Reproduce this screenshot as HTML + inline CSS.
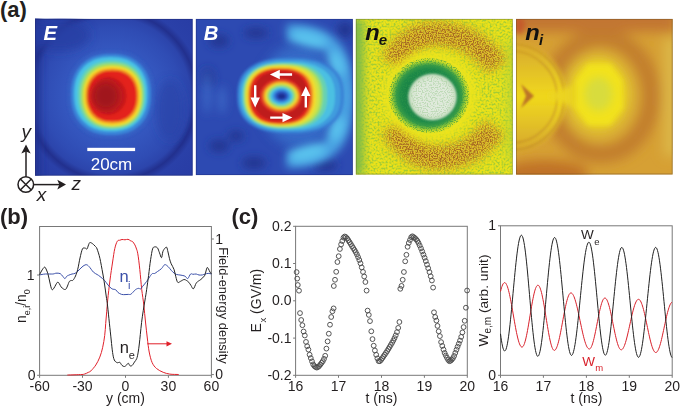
<!DOCTYPE html>
<html><head><meta charset="utf-8">
<style>
html,body{margin:0;padding:0;background:#fff;overflow:hidden;}
svg{display:block;}
text{font-family:"Liberation Sans",sans-serif;}
</style></head>
<body>
<svg width="685" height="406" viewBox="0 0 685 406" xmlns="http://www.w3.org/2000/svg">
<defs>
  <clipPath id="cE"><rect x="35.1" y="18.9" width="157.5" height="156.7"/></clipPath>
  <clipPath id="cB"><rect x="195.9" y="18.9" width="156.9" height="156.2"/></clipPath>
  <clipPath id="cN"><rect x="355.9" y="18.9" width="156.8" height="155.6"/></clipPath>
  <clipPath id="cI"><rect x="516.1" y="18.9" width="156.5" height="155.5"/></clipPath>
  <filter id="bl1" filterUnits="userSpaceOnUse" x="-10" y="-10" width="705" height="426"><feGaussianBlur stdDeviation="1.2"/></filter>
  <filter id="bl2" filterUnits="userSpaceOnUse" x="-10" y="-10" width="705" height="426"><feGaussianBlur stdDeviation="2.5"/></filter>
  <filter id="bl4" filterUnits="userSpaceOnUse" x="-10" y="-10" width="705" height="426"><feGaussianBlur stdDeviation="4"/></filter>
  <filter id="bl6" filterUnits="userSpaceOnUse" x="-10" y="-10" width="705" height="426"><feGaussianBlur stdDeviation="6"/></filter>
  <filter id="speckIn" x="356" y="18" width="158" height="158" filterUnits="userSpaceOnUse">
    <feTurbulence type="fractalNoise" baseFrequency="0.75" numOctaves="1" seed="3" result="n"/>
    <feColorMatrix in="n" type="matrix" values="0 0 0 0 0  0 0 0 0 0  0 0 0 0 0  5 0 0 0 -2.1" result="m"/>
    <feComposite in="SourceGraphic" in2="m" operator="in"/>
  </filter>
  <filter id="speckG" x="356" y="18" width="158" height="158" filterUnits="userSpaceOnUse">
    <feTurbulence type="fractalNoise" baseFrequency="0.5" numOctaves="2" seed="11" result="n"/>
    <feColorMatrix in="n" type="matrix" values="0 0 0 0 0  0 0 0 0 0  0 0 0 0 0  3.5 0 0 0 -1.5" result="m"/>
    <feGaussianBlur in="m" stdDeviation="0.4" result="mb"/>
    <feComposite in="SourceGraphic" in2="mb" operator="in"/>
  </filter>
  <linearGradient id="gNiDisk" x1="0" y1="0" x2="0" y2="1">
    <stop offset="0" stop-color="#d8a62c"/>
    <stop offset="0.25" stop-color="#e2c028"/>
    <stop offset="0.5" stop-color="#f0d81c"/>
    <stop offset="0.75" stop-color="#e2c028"/>
    <stop offset="1" stop-color="#d6a42c"/>
  </linearGradient>
  <radialGradient id="gNeRing" cx="0.5" cy="0.5" r="0.5">
    <stop offset="0.55" stop-color="#1a8446"/>
    <stop offset="0.68" stop-color="#1e8a48"/>
    <stop offset="0.78" stop-color="#3a9c46"/>
    <stop offset="0.86" stop-color="#80c03a" stop-opacity="0.9"/>
    <stop offset="0.93" stop-color="#c4dc2a" stop-opacity="0.6"/>
    <stop offset="1" stop-color="#e8e21e" stop-opacity="0"/>
  </radialGradient>
  <filter id="speckF" x="356" y="18" width="158" height="158" filterUnits="userSpaceOnUse">
    <feTurbulence type="fractalNoise" baseFrequency="0.8" numOctaves="1" seed="5" result="n"/>
    <feColorMatrix in="n" type="matrix" values="0 0 0 0 0  0 0 0 0 0  0 0 0 0 0  6 0 0 0 -2.8" result="m"/>
    <feComposite in="SourceGraphic" in2="m" operator="in"/>
  </filter>
  <radialGradient id="gEbg" gradientUnits="userSpaceOnUse" cx="112" cy="96" r="115">
    <stop offset="0" stop-color="#3a62c8"/>
    <stop offset="0.42" stop-color="#3456be"/>
    <stop offset="0.6" stop-color="#2f4cb4"/>
    <stop offset="0.68" stop-color="#2c45ac"/>
    <stop offset="0.735" stop-color="#22308e"/>
    <stop offset="0.79" stop-color="#2a40a8"/>
    <stop offset="1" stop-color="#283ca4"/>
  </radialGradient>
</defs>

<!-- ============ (a) panel labels ============ -->
<text x="0" y="16.6" font-size="22" font-weight="bold" fill="#231f20">(a)</text>

<!-- E panel -->
<g clip-path="url(#cE)">
  <rect x="30" y="14" width="170" height="170" fill="url(#gEbg)"/>
  <g filter="url(#bl4)">
    <rect x="30" y="15" width="9" height="165" fill="#22308e"/>
    <ellipse cx="60" cy="35" rx="30" ry="16" fill="#283fa4" opacity="0.8"/>
    <ellipse cx="170" cy="110" rx="14" ry="30" fill="#2a44a8" opacity="0.7"/>
  </g>
  <g filter="url(#bl1)">
    <path d="M155.0,94.5 L154.9,99.8 L154.4,104.2 L153.7,108.2 L152.7,112.0 L151.4,115.5 L149.8,118.9 L148.0,121.9 L145.9,124.8 L143.6,127.4 L141.0,129.8 L138.1,131.9 L135.1,133.8 L131.8,135.4 L128.3,136.7 L124.6,137.7 L120.6,138.4 L116.3,138.9 L111.0,139.0 L105.7,138.9 L101.4,138.4 L97.4,137.7 L93.7,136.7 L90.2,135.4 L86.9,133.8 L83.9,131.9 L81.0,129.8 L78.4,127.4 L76.1,124.8 L74.0,121.9 L72.2,118.9 L70.6,115.5 L69.3,112.0 L68.3,108.2 L67.6,104.2 L67.1,99.8 L67.0,94.5 L67.1,89.2 L67.6,84.8 L68.3,80.8 L69.3,77.0 L70.6,73.5 L72.2,70.1 L74.0,67.1 L76.1,64.2 L78.4,61.6 L81.0,59.2 L83.9,57.1 L86.9,55.2 L90.2,53.6 L93.7,52.3 L97.4,51.3 L101.4,50.6 L105.7,50.1 L111.0,50.0 L116.3,50.1 L120.6,50.6 L124.6,51.3 L128.3,52.3 L131.8,53.6 L135.1,55.2 L138.1,57.1 L141.0,59.2 L143.6,61.6 L145.9,64.2 L148.0,67.1 L149.8,70.1 L151.4,73.5 L152.7,77.0 L153.7,80.8 L154.4,84.8 L154.9,89.2Z" fill="#3468c8" opacity="0.4"/>
    <path d="M151.0,94.5 L150.9,99.4 L150.5,103.3 L149.8,107.0 L148.9,110.4 L147.7,113.7 L146.3,116.7 L144.6,119.5 L142.7,122.1 L140.6,124.5 L138.2,126.6 L135.7,128.6 L132.9,130.2 L129.9,131.7 L126.7,132.9 L123.3,133.8 L119.7,134.5 L115.8,134.9 L111.0,135.0 L106.2,134.9 L102.3,134.5 L98.7,133.8 L95.3,132.9 L92.1,131.7 L89.1,130.2 L86.3,128.6 L83.8,126.6 L81.4,124.5 L79.3,122.1 L77.4,119.5 L75.7,116.7 L74.3,113.7 L73.1,110.4 L72.2,107.0 L71.5,103.3 L71.1,99.4 L71.0,94.5 L71.1,89.6 L71.5,85.7 L72.2,82.0 L73.1,78.6 L74.3,75.3 L75.7,72.3 L77.4,69.5 L79.3,66.9 L81.4,64.5 L83.8,62.4 L86.3,60.4 L89.1,58.8 L92.1,57.3 L95.3,56.1 L98.7,55.2 L102.3,54.5 L106.2,54.1 L111.0,54.0 L115.8,54.1 L119.7,54.5 L123.3,55.2 L126.7,56.1 L129.9,57.3 L132.9,58.8 L135.7,60.4 L138.2,62.4 L140.6,64.5 L142.7,66.9 L144.6,69.5 L146.3,72.3 L147.7,75.3 L148.9,78.6 L149.8,82.0 L150.5,85.7 L150.9,89.6Z" fill="#3a86d8"/>
    <path d="M147.4,94.2 L147.3,98.6 L146.9,102.3 L146.3,105.7 L145.5,108.8 L144.4,111.7 L143.1,114.5 L141.6,117.1 L139.8,119.5 L137.9,121.6 L135.7,123.6 L133.4,125.4 L130.8,126.9 L128.1,128.3 L125.2,129.3 L122.1,130.2 L118.8,130.8 L115.2,131.2 L110.8,131.3 L106.4,131.2 L102.8,130.8 L99.5,130.2 L96.4,129.3 L93.5,128.3 L90.8,126.9 L88.2,125.4 L85.9,123.6 L83.7,121.6 L81.8,119.5 L80.0,117.1 L78.5,114.5 L77.2,111.7 L76.1,108.8 L75.3,105.7 L74.7,102.3 L74.3,98.6 L74.2,94.2 L74.3,89.8 L74.7,86.1 L75.3,82.7 L76.1,79.6 L77.2,76.7 L78.5,73.9 L80.0,71.3 L81.8,68.9 L83.7,66.8 L85.9,64.8 L88.2,63.0 L90.8,61.5 L93.5,60.1 L96.4,59.1 L99.5,58.2 L102.8,57.6 L106.4,57.2 L110.8,57.1 L115.2,57.2 L118.8,57.6 L122.1,58.2 L125.2,59.1 L128.1,60.1 L130.8,61.5 L133.4,63.0 L135.7,64.8 L137.9,66.8 L139.8,68.9 L141.6,71.3 L143.1,73.9 L144.4,76.7 L145.5,79.6 L146.3,82.7 L146.9,86.1 L147.3,89.8Z" fill="#48c2e6"/>
    <path d="M145.1,95.0 L145.0,99.1 L144.7,102.5 L144.1,105.6 L143.3,108.5 L142.3,111.2 L141.1,113.8 L139.7,116.2 L138.1,118.4 L136.4,120.4 L134.4,122.2 L132.2,123.8 L129.9,125.3 L127.4,126.5 L124.7,127.5 L121.9,128.3 L118.8,128.8 L115.5,129.2 L111.5,129.3 L107.5,129.2 L104.2,128.8 L101.1,128.3 L98.3,127.5 L95.6,126.5 L93.1,125.3 L90.8,123.8 L88.6,122.2 L86.6,120.4 L84.9,118.4 L83.3,116.2 L81.9,113.8 L80.7,111.2 L79.7,108.5 L78.9,105.6 L78.3,102.5 L78.0,99.1 L77.9,95.0 L78.0,90.9 L78.3,87.5 L78.9,84.4 L79.7,81.5 L80.7,78.8 L81.9,76.2 L83.3,73.8 L84.9,71.6 L86.6,69.6 L88.6,67.8 L90.8,66.2 L93.1,64.7 L95.6,63.5 L98.3,62.5 L101.1,61.7 L104.2,61.2 L107.5,60.8 L111.5,60.7 L115.5,60.8 L118.8,61.2 L121.9,61.7 L124.7,62.5 L127.4,63.5 L129.9,64.7 L132.2,66.2 L134.4,67.8 L136.4,69.6 L138.1,71.6 L139.7,73.8 L141.1,76.2 L142.3,78.8 L143.3,81.5 L144.1,84.4 L144.7,87.5 L145.0,90.9Z" fill="#66d4b2"/>
    <path d="M143.2,95.5 L143.1,99.4 L142.8,102.5 L142.3,105.4 L141.6,108.2 L140.6,110.7 L139.5,113.1 L138.2,115.4 L136.7,117.4 L135.1,119.3 L133.2,121.0 L131.2,122.6 L129.1,123.9 L126.8,125.1 L124.3,126.0 L121.6,126.7 L118.8,127.3 L115.7,127.6 L112.0,127.7 L108.3,127.6 L105.2,127.3 L102.4,126.7 L99.7,126.0 L97.2,125.1 L94.9,123.9 L92.8,122.6 L90.8,121.0 L88.9,119.3 L87.3,117.4 L85.8,115.4 L84.5,113.1 L83.4,110.7 L82.4,108.2 L81.7,105.4 L81.2,102.5 L80.9,99.4 L80.8,95.5 L80.9,91.6 L81.2,88.5 L81.7,85.6 L82.4,82.8 L83.4,80.3 L84.5,77.9 L85.8,75.6 L87.3,73.6 L88.9,71.7 L90.8,70.0 L92.8,68.4 L94.9,67.1 L97.2,65.9 L99.7,65.0 L102.4,64.3 L105.2,63.7 L108.3,63.4 L112.0,63.3 L115.7,63.4 L118.8,63.7 L121.6,64.3 L124.3,65.0 L126.8,65.9 L129.1,67.1 L131.2,68.4 L133.2,70.0 L135.1,71.7 L136.7,73.6 L138.2,75.6 L139.5,77.9 L140.6,80.3 L141.6,82.8 L142.3,85.6 L142.8,88.5 L143.1,91.6Z" fill="#a8de5a"/>
    <path d="M141.2,96.0 L141.1,99.6 L140.8,102.5 L140.3,105.2 L139.7,107.8 L138.8,110.1 L137.8,112.4 L136.6,114.4 L135.2,116.4 L133.7,118.1 L132.0,119.7 L130.1,121.1 L128.1,122.4 L126.0,123.4 L123.7,124.3 L121.2,125.0 L118.6,125.5 L115.8,125.8 L112.3,125.9 L108.8,125.8 L106.0,125.5 L103.4,125.0 L100.9,124.3 L98.6,123.4 L96.5,122.4 L94.5,121.1 L92.6,119.7 L90.9,118.1 L89.4,116.4 L88.0,114.4 L86.8,112.4 L85.8,110.1 L84.9,107.8 L84.3,105.2 L83.8,102.5 L83.5,99.6 L83.4,96.0 L83.5,92.4 L83.8,89.5 L84.3,86.8 L84.9,84.2 L85.8,81.9 L86.8,79.6 L88.0,77.6 L89.4,75.6 L90.9,73.9 L92.6,72.3 L94.5,70.9 L96.5,69.6 L98.6,68.6 L100.9,67.7 L103.4,67.0 L106.0,66.5 L108.8,66.2 L112.3,66.1 L115.8,66.2 L118.6,66.5 L121.2,67.0 L123.7,67.7 L126.0,68.6 L128.1,69.6 L130.1,70.9 L132.0,72.3 L133.7,73.9 L135.2,75.6 L136.6,77.6 L137.8,79.6 L138.8,81.9 L139.7,84.2 L140.3,86.8 L140.8,89.5 L141.1,92.4Z" fill="#f6da2a"/>
    <path d="M138.7,96.0 L138.6,99.3 L138.4,102.0 L137.9,104.5 L137.3,106.8 L136.5,109.0 L135.6,111.0 L134.5,112.9 L133.2,114.7 L131.8,116.3 L130.3,117.7 L128.6,119.0 L126.7,120.2 L124.8,121.2 L122.7,122.0 L120.5,122.6 L118.1,123.0 L115.5,123.3 L112.3,123.4 L109.1,123.3 L106.5,123.0 L104.1,122.6 L101.9,122.0 L99.8,121.2 L97.9,120.2 L96.0,119.0 L94.3,117.7 L92.8,116.3 L91.4,114.7 L90.1,112.9 L89.0,111.0 L88.1,109.0 L87.3,106.8 L86.7,104.5 L86.2,102.0 L86.0,99.3 L85.9,96.0 L86.0,92.7 L86.2,90.0 L86.7,87.5 L87.3,85.2 L88.1,83.0 L89.0,81.0 L90.1,79.1 L91.4,77.3 L92.8,75.7 L94.3,74.3 L96.0,73.0 L97.9,71.8 L99.8,70.8 L101.9,70.0 L104.1,69.4 L106.5,69.0 L109.1,68.7 L112.3,68.6 L115.5,68.7 L118.1,69.0 L120.5,69.4 L122.7,70.0 L124.8,70.8 L126.7,71.8 L128.6,73.0 L130.3,74.3 L131.8,75.7 L133.2,77.3 L134.5,79.1 L135.6,81.0 L136.5,83.0 L137.3,85.2 L137.9,87.5 L138.4,90.0 L138.6,92.7Z" fill="#f08a24"/>
    <path d="M136.5,96.0 L136.4,99.0 L136.2,101.5 L135.8,103.8 L135.2,105.9 L134.5,107.9 L133.7,109.8 L132.6,111.5 L131.5,113.2 L130.2,114.6 L128.8,116.0 L127.2,117.2 L125.5,118.2 L123.7,119.1 L121.8,119.9 L119.8,120.5 L117.6,120.9 L115.2,121.1 L112.3,121.2 L109.4,121.1 L107.0,120.9 L104.8,120.5 L102.8,119.9 L100.9,119.1 L99.1,118.2 L97.4,117.2 L95.8,116.0 L94.4,114.6 L93.1,113.2 L92.0,111.5 L90.9,109.8 L90.1,107.9 L89.4,105.9 L88.8,103.8 L88.4,101.5 L88.2,99.0 L88.1,96.0 L88.2,93.0 L88.4,90.5 L88.8,88.2 L89.4,86.1 L90.1,84.1 L90.9,82.2 L92.0,80.5 L93.1,78.8 L94.4,77.4 L95.8,76.0 L97.4,74.8 L99.1,73.8 L100.9,72.9 L102.8,72.1 L104.8,71.5 L107.0,71.1 L109.4,70.9 L112.3,70.8 L115.2,70.9 L117.6,71.1 L119.8,71.5 L121.8,72.1 L123.7,72.9 L125.5,73.8 L127.2,74.8 L128.8,76.0 L130.2,77.4 L131.5,78.8 L132.6,80.5 L133.7,82.2 L134.5,84.1 L135.2,86.1 L135.8,88.2 L136.2,90.5 L136.4,93.0Z" fill="#e4221e"/>
    <ellipse cx="109" cy="96" rx="17.5" ry="18.5" fill="#cc1c1e"/>
  </g>

  <ellipse cx="106" cy="96" rx="14" ry="15" fill="#a0121c" filter="url(#bl4)"/>
  <rect x="87.3" y="147.8" width="47.8" height="3.3" fill="#fff"/>
  <text x="111.5" y="169.6" font-size="17" fill="#fff" text-anchor="middle">20cm</text>
  <text transform="translate(43.6,39.9) scale(1.05,1)" font-size="19.3" font-weight="bold" font-style="italic" fill="#fff">E</text>
</g>

<!-- B panel -->
<g clip-path="url(#cB)">
  <rect x="190" y="14" width="170" height="170" fill="#2d4ab2"/>
  <g filter="url(#bl4)" fill="#223490">
    <ellipse cx="219" cy="41" rx="10" ry="6"/>
    <ellipse cx="256" cy="33" rx="12" ry="5"/>
    <ellipse cx="208" cy="78" rx="6" ry="10"/>
    <ellipse cx="219" cy="146" rx="10" ry="6"/>
    <ellipse cx="254" cy="163" rx="12" ry="6"/>
    <ellipse cx="236" cy="136" rx="8" ry="5"/>
    <ellipse cx="325" cy="165" rx="12" ry="6"/>
    <ellipse cx="345" cy="30" rx="8" ry="8"/>
  </g>
  <g filter="url(#bl4)" fill="#3a66c6">
    <ellipse cx="207" cy="92" rx="4" ry="22"/>
    <ellipse cx="222" cy="100" rx="4" ry="14"/>
  </g>
  <ellipse cx="300" cy="96" rx="42" ry="52" fill="#3872cc" filter="url(#bl6)" opacity="0.8"/>
  <g filter="url(#bl4)">
    <path d="M287,33 C304,32 321,36 331,46 C341,56 345,74 346,96 C345,118 341,136 331,146 C321,156 304,160 287,159" fill="none" stroke="#48a2e2" stroke-width="17"/>
  </g>
  <g filter="url(#bl4)" fill="#5ac4ee">
    <ellipse cx="309" cy="39" rx="19" ry="7" transform="rotate(14 309 39)"/>
    <ellipse cx="308" cy="153" rx="19" ry="7" transform="rotate(-14 308 153)"/>
    <ellipse cx="337" cy="63" rx="6" ry="13" transform="rotate(-22 337 63)"/>
    <ellipse cx="337" cy="129" rx="6" ry="13" transform="rotate(22 337 129)"/>
  </g>
  <g filter="url(#bl1)">
    <path d="M344.0,95.6 L343.8,101.0 L343.3,105.0 L342.5,108.5 L341.4,111.7 L340.0,114.7 L338.2,117.4 L336.1,120.0 L333.7,122.3 L331.0,124.4 L328.1,126.3 L324.8,128.0 L321.2,129.5 L317.4,130.7 L313.2,131.8 L308.6,132.6 L303.7,133.1 L298.1,133.5 L290.5,133.6 L282.9,133.5 L277.3,133.1 L272.4,132.6 L267.8,131.8 L263.6,130.7 L259.8,129.5 L256.2,128.0 L252.9,126.3 L250.0,124.4 L247.3,122.3 L244.9,120.0 L242.8,117.4 L241.0,114.7 L239.6,111.7 L238.5,108.5 L237.7,105.0 L237.2,101.0 L237.0,95.6 L237.2,90.2 L237.7,86.2 L238.5,82.7 L239.6,79.5 L241.0,76.5 L242.8,73.8 L244.9,71.2 L247.3,68.9 L250.0,66.8 L252.9,64.9 L256.2,63.2 L259.8,61.7 L263.6,60.5 L267.8,59.4 L272.4,58.6 L277.3,58.1 L282.9,57.7 L290.5,57.6 L298.1,57.7 L303.7,58.1 L308.6,58.6 L313.2,59.4 L317.4,60.5 L321.2,61.7 L324.8,63.2 L328.1,64.9 L331.0,66.8 L333.7,68.9 L336.1,71.2 L338.2,73.8 L340.0,76.5 L341.4,79.5 L342.5,82.7 L343.3,86.2 L343.8,90.2Z" fill="#3a80d4" opacity="0.8"/>
    <path d="M340.5,95.6 L340.3,100.7 L339.9,104.5 L339.1,107.9 L338.0,110.9 L336.7,113.8 L335.0,116.4 L333.0,118.8 L330.8,121.0 L328.2,123.0 L325.4,124.8 L322.3,126.5 L318.9,127.9 L315.2,129.1 L311.3,130.0 L307.0,130.8 L302.3,131.4 L297.0,131.7 L289.8,131.8 L282.5,131.7 L277.2,131.4 L272.5,130.8 L268.2,130.0 L264.3,129.1 L260.6,127.9 L257.2,126.5 L254.1,124.8 L251.3,123.0 L248.7,121.0 L246.5,118.8 L244.5,116.4 L242.8,113.8 L241.5,110.9 L240.4,107.9 L239.6,104.5 L239.2,100.7 L239.0,95.6 L239.2,90.5 L239.6,86.7 L240.4,83.3 L241.5,80.3 L242.8,77.4 L244.5,74.8 L246.5,72.4 L248.7,70.2 L251.3,68.2 L254.1,66.4 L257.2,64.7 L260.6,63.3 L264.3,62.1 L268.2,61.2 L272.5,60.4 L277.2,59.8 L282.5,59.5 L289.7,59.4 L297.0,59.5 L302.3,59.8 L307.0,60.4 L311.3,61.2 L315.2,62.1 L318.9,63.3 L322.3,64.7 L325.4,66.4 L328.2,68.2 L330.8,70.2 L333.0,72.4 L335.0,74.8 L336.7,77.4 L338.0,80.3 L339.1,83.3 L339.9,86.7 L340.3,90.5Z" fill="#3f9cde"/>
    <path d="M335.0,95.8 L334.9,100.6 L334.4,104.2 L333.7,107.3 L332.7,110.2 L331.5,112.8 L329.9,115.3 L328.1,117.5 L326.0,119.6 L323.7,121.5 L321.1,123.2 L318.2,124.7 L315.1,126.0 L311.7,127.1 L308.1,128.1 L304.1,128.8 L299.8,129.3 L294.9,129.6 L288.3,129.7 L281.6,129.6 L276.7,129.3 L272.4,128.8 L268.4,128.1 L264.8,127.1 L261.4,126.0 L258.3,124.7 L255.4,123.2 L252.8,121.5 L250.5,119.6 L248.4,117.5 L246.6,115.3 L245.0,112.8 L243.8,110.2 L242.8,107.3 L242.1,104.2 L241.6,100.6 L241.5,95.8 L241.6,91.0 L242.1,87.4 L242.8,84.3 L243.8,81.4 L245.0,78.8 L246.6,76.3 L248.4,74.1 L250.5,72.0 L252.8,70.1 L255.4,68.4 L258.3,66.9 L261.4,65.6 L264.8,64.5 L268.4,63.5 L272.4,62.8 L276.7,62.3 L281.6,62.0 L288.2,61.9 L294.9,62.0 L299.8,62.3 L304.1,62.8 L308.1,63.5 L311.7,64.5 L315.1,65.6 L318.2,66.9 L321.1,68.4 L323.7,70.1 L326.0,72.0 L328.1,74.1 L329.9,76.3 L331.5,78.8 L332.7,81.4 L333.7,84.3 L334.4,87.4 L334.9,91.0Z" fill="#4cc0e2"/>
    <path d="M327.2,95.8 L327.1,100.5 L326.7,103.9 L326.0,106.9 L325.2,109.7 L324.0,112.3 L322.6,114.6 L321.0,116.8 L319.1,118.8 L317.0,120.7 L314.6,122.3 L312.1,123.8 L309.2,125.0 L306.2,126.1 L302.9,127.0 L299.3,127.7 L295.4,128.2 L291.0,128.5 L285.0,128.6 L279.0,128.5 L274.6,128.2 L270.7,127.7 L267.1,127.0 L263.8,126.1 L260.8,125.0 L257.9,123.8 L255.4,122.3 L253.0,120.7 L250.9,118.8 L249.0,116.8 L247.4,114.6 L246.0,112.3 L244.8,109.7 L244.0,106.9 L243.3,103.9 L242.9,100.5 L242.8,95.8 L242.9,91.1 L243.3,87.7 L244.0,84.7 L244.8,81.9 L246.0,79.3 L247.4,77.0 L249.0,74.8 L250.9,72.8 L253.0,70.9 L255.4,69.3 L257.9,67.8 L260.8,66.6 L263.8,65.5 L267.1,64.6 L270.7,63.9 L274.6,63.4 L279.0,63.1 L285.0,63.0 L291.0,63.1 L295.4,63.4 L299.3,63.9 L302.9,64.6 L306.2,65.5 L309.2,66.6 L312.1,67.8 L314.6,69.3 L317.0,70.9 L319.1,72.8 L321.0,74.8 L322.6,77.0 L324.0,79.3 L325.2,81.9 L326.0,84.7 L326.7,87.7 L327.1,91.1Z" fill="#68d2b0"/>
    <path d="M322.7,95.8 L322.6,100.3 L322.2,103.6 L321.6,106.6 L320.8,109.2 L319.7,111.7 L318.4,114.0 L316.9,116.1 L315.1,118.1 L313.2,119.8 L311.0,121.4 L308.6,122.8 L306.0,124.1 L303.1,125.1 L300.0,126.0 L296.7,126.6 L293.0,127.1 L288.9,127.4 L283.4,127.5 L277.8,127.4 L273.7,127.1 L270.0,126.6 L266.7,126.0 L263.6,125.1 L260.7,124.1 L258.1,122.8 L255.7,121.4 L253.5,119.8 L251.6,118.1 L249.8,116.1 L248.3,114.0 L247.0,111.7 L245.9,109.2 L245.1,106.6 L244.5,103.6 L244.1,100.3 L244.0,95.8 L244.1,91.3 L244.5,88.0 L245.1,85.0 L245.9,82.4 L247.0,79.9 L248.3,77.6 L249.8,75.5 L251.6,73.5 L253.5,71.8 L255.7,70.2 L258.1,68.8 L260.7,67.5 L263.6,66.5 L266.7,65.6 L270.0,65.0 L273.7,64.5 L277.8,64.2 L283.3,64.1 L288.9,64.2 L293.0,64.5 L296.7,65.0 L300.0,65.6 L303.1,66.5 L306.0,67.5 L308.6,68.8 L311.0,70.2 L313.2,71.8 L315.1,73.5 L316.9,75.5 L318.4,77.6 L319.7,79.9 L320.8,82.4 L321.6,85.0 L322.2,88.0 L322.6,91.3Z" fill="#a0de64"/>
    <path d="M319.8,95.8 L319.7,100.2 L319.3,103.4 L318.8,106.2 L318.0,108.8 L317.0,111.2 L315.7,113.4 L314.3,115.5 L312.6,117.4 L310.8,119.1 L308.7,120.6 L306.4,122.0 L303.9,123.2 L301.2,124.2 L298.3,125.0 L295.2,125.7 L291.7,126.1 L287.8,126.4 L282.5,126.5 L277.2,126.4 L273.3,126.1 L269.8,125.7 L266.7,125.0 L263.8,124.2 L261.1,123.2 L258.6,122.0 L256.3,120.6 L254.2,119.1 L252.4,117.4 L250.7,115.5 L249.3,113.4 L248.0,111.2 L247.0,108.8 L246.2,106.2 L245.7,103.4 L245.3,100.2 L245.2,95.8 L245.3,91.4 L245.7,88.2 L246.2,85.4 L247.0,82.8 L248.0,80.4 L249.3,78.2 L250.7,76.1 L252.4,74.2 L254.2,72.5 L256.3,71.0 L258.6,69.6 L261.1,68.4 L263.8,67.4 L266.7,66.6 L269.8,65.9 L273.3,65.5 L277.2,65.2 L282.5,65.1 L287.8,65.2 L291.7,65.5 L295.2,65.9 L298.3,66.6 L301.2,67.4 L303.9,68.4 L306.4,69.6 L308.7,71.0 L310.8,72.5 L312.6,74.2 L314.3,76.1 L315.7,78.2 L317.0,80.4 L318.0,82.8 L318.8,85.4 L319.3,88.2 L319.7,91.4Z" fill="#d2e244"/>
    <path d="M316.1,95.8 L316.0,100.0 L315.7,103.1 L315.1,105.9 L314.4,108.4 L313.5,110.7 L312.3,112.9 L311.0,114.8 L309.4,116.7 L307.6,118.3 L305.7,119.8 L303.6,121.1 L301.2,122.3 L298.7,123.3 L296.0,124.1 L293.0,124.7 L289.8,125.1 L286.2,125.4 L281.2,125.5 L276.2,125.4 L272.6,125.1 L269.4,124.7 L266.4,124.1 L263.7,123.3 L261.2,122.3 L258.8,121.1 L256.7,119.8 L254.8,118.3 L253.0,116.7 L251.4,114.8 L250.1,112.9 L248.9,110.7 L248.0,108.4 L247.3,105.9 L246.7,103.1 L246.4,100.0 L246.3,95.8 L246.4,91.6 L246.7,88.5 L247.3,85.7 L248.0,83.2 L248.9,80.9 L250.1,78.7 L251.4,76.8 L253.0,74.9 L254.8,73.3 L256.7,71.8 L258.8,70.5 L261.2,69.3 L263.7,68.3 L266.4,67.5 L269.4,66.9 L272.6,66.5 L276.2,66.2 L281.2,66.1 L286.2,66.2 L289.8,66.5 L293.0,66.9 L296.0,67.5 L298.7,68.3 L301.2,69.3 L303.6,70.5 L305.7,71.8 L307.6,73.3 L309.4,74.9 L311.0,76.8 L312.3,78.7 L313.5,80.9 L314.4,83.2 L315.1,85.7 L315.7,88.5 L316.0,91.6Z" fill="#f4da2c"/>
    <path d="M313.1,96.1 L313.0,100.1 L312.7,103.1 L312.2,105.7 L311.5,108.1 L310.6,110.3 L309.6,112.4 L308.3,114.2 L306.9,116.0 L305.2,117.5 L303.4,119.0 L301.5,120.2 L299.3,121.3 L296.9,122.3 L294.4,123.0 L291.7,123.6 L288.6,124.1 L285.3,124.3 L280.7,124.4 L276.0,124.3 L272.7,124.1 L269.6,123.6 L266.9,123.0 L264.4,122.3 L262.0,121.3 L259.8,120.2 L257.9,119.0 L256.1,117.5 L254.4,116.0 L253.0,114.2 L251.7,112.4 L250.7,110.3 L249.8,108.1 L249.1,105.7 L248.6,103.1 L248.3,100.1 L248.2,96.1 L248.3,92.1 L248.6,89.1 L249.1,86.5 L249.8,84.1 L250.7,81.9 L251.7,79.8 L253.0,78.0 L254.4,76.2 L256.1,74.7 L257.9,73.2 L259.8,72.0 L262.0,70.9 L264.4,69.9 L266.9,69.2 L269.6,68.6 L272.7,68.1 L276.0,67.9 L280.6,67.8 L285.3,67.9 L288.6,68.1 L291.7,68.6 L294.4,69.2 L296.9,69.9 L299.3,70.9 L301.5,72.0 L303.4,73.2 L305.2,74.7 L306.9,76.2 L308.3,78.0 L309.6,79.8 L310.6,81.9 L311.5,84.1 L312.2,86.5 L312.7,89.1 L313.0,92.1Z" fill="#f08c28"/>
    <path d="M310.5,96.2 L310.4,100.1 L310.1,102.9 L309.7,105.4 L309.0,107.7 L308.2,109.9 L307.2,111.8 L306.0,113.6 L304.7,115.3 L303.1,116.8 L301.4,118.2 L299.6,119.4 L297.6,120.4 L295.4,121.3 L293.0,122.1 L290.4,122.7 L287.6,123.1 L284.4,123.3 L280.1,123.4 L275.8,123.3 L272.6,123.1 L269.8,122.7 L267.2,122.1 L264.8,121.3 L262.6,120.4 L260.6,119.4 L258.8,118.2 L257.1,116.8 L255.5,115.3 L254.2,113.6 L253.0,111.8 L252.0,109.9 L251.2,107.7 L250.5,105.4 L250.1,102.9 L249.8,100.1 L249.7,96.2 L249.8,92.3 L250.1,89.5 L250.5,87.0 L251.2,84.7 L252.0,82.5 L253.0,80.6 L254.2,78.8 L255.5,77.1 L257.1,75.6 L258.8,74.2 L260.6,73.0 L262.6,72.0 L264.8,71.1 L267.2,70.3 L269.8,69.7 L272.6,69.3 L275.8,69.1 L280.1,69.0 L284.4,69.1 L287.6,69.3 L290.4,69.7 L293.0,70.3 L295.4,71.1 L297.6,72.0 L299.6,73.0 L301.4,74.2 L303.1,75.6 L304.7,77.1 L306.0,78.8 L307.2,80.6 L308.2,82.5 L309.0,84.7 L309.7,87.0 L310.1,89.5 L310.4,92.3Z" fill="#e0261f"/>
    <path d="M307.6,96.1 L307.5,99.6 L307.3,102.1 L306.9,104.4 L306.3,106.5 L305.6,108.4 L304.7,110.2 L303.6,111.8 L302.4,113.3 L301.1,114.7 L299.6,115.9 L297.9,117.0 L296.1,117.9 L294.2,118.7 L292.0,119.4 L289.8,119.9 L287.3,120.3 L284.4,120.5 L280.6,120.6 L276.8,120.5 L273.9,120.3 L271.4,119.9 L269.2,119.4 L267.0,118.7 L265.1,117.9 L263.3,117.0 L261.6,115.9 L260.1,114.7 L258.8,113.3 L257.6,111.8 L256.5,110.2 L255.6,108.4 L254.9,106.5 L254.3,104.4 L253.9,102.1 L253.7,99.6 L253.6,96.1 L253.7,92.6 L253.9,90.1 L254.3,87.8 L254.9,85.7 L255.6,83.8 L256.5,82.0 L257.6,80.4 L258.8,78.9 L260.1,77.5 L261.6,76.3 L263.3,75.2 L265.1,74.3 L267.0,73.5 L269.2,72.8 L271.4,72.3 L273.9,71.9 L276.8,71.7 L280.6,71.6 L284.4,71.7 L287.3,71.9 L289.8,72.3 L292.0,72.8 L294.2,73.5 L296.1,74.3 L297.9,75.2 L299.6,76.3 L301.1,77.5 L302.4,78.9 L303.6,80.4 L304.7,82.0 L305.6,83.8 L306.3,85.7 L306.9,87.8 L307.3,90.1 L307.5,92.6Z" fill="#be1e1e"/>
    <ellipse cx="281" cy="96" rx="21.5" ry="17.8" fill="#da2a22"/>
    <ellipse cx="281.2" cy="96" rx="19" ry="15.5" fill="#ee7a26"/>
    <ellipse cx="281.3" cy="96" rx="16.8" ry="13.5" fill="#f2d82c"/>
    <ellipse cx="281.3" cy="96" rx="14.4" ry="11.5" fill="#98dc6a"/>
    <ellipse cx="281.3" cy="96" rx="11.8" ry="9.3" fill="#4cc6e0"/>
    <ellipse cx="281.4" cy="96" rx="9.2" ry="7.2" fill="#3a8ee0"/>
    <ellipse cx="281.5" cy="96.1" rx="6.6" ry="5" fill="#2c52c0"/>
    <ellipse cx="281.6" cy="96.2" rx="3.8" ry="2.7" fill="#1c2e90"/>
  </g>

  <!-- arrows -->
  <g fill="#fff" stroke="none">
    <path d="M269.9,74.5 L279.8,69.8 L279.8,73.3 L292.1,73.3 L292.1,75.7 L279.8,75.7 L279.8,79.2 Z"/>
    <path d="M292.4,117.6 L282.5,112.9 L282.5,116.4 L270.2,116.4 L270.2,118.8 L282.5,118.8 L282.5,122.3 Z"/>
    <path d="M255.2,107.5 L250.5,97.6 L254,97.6 L254,85.3 L256.4,85.3 L256.4,97.6 L259.9,97.6 Z"/>
    <path d="M305.8,86.2 L301.1,96.1 L304.6,96.1 L304.6,107.4 L307,107.4 L307,96.1 L310.5,96.1 Z"/>
  </g>
  <text transform="translate(203.7,39.9) scale(1.05,1)" font-size="19.3" font-weight="bold" font-style="italic" fill="#fff">B</text>
</g>

<!-- ne panel -->
<g clip-path="url(#cN)">
  <rect x="350" y="14" width="170" height="170" fill="#ece21a"/>
  <rect x="356.1" y="18.9" width="156.6" height="155.6" fill="#a4cc34" filter="url(#speckG)"/>
  <rect x="348" y="18.9" width="16" height="155.6" fill="#80bc46" filter="url(#bl4)"/>
  <rect x="506" y="40" width="12" height="120" fill="#b8d434" filter="url(#bl4)" opacity="0.7"/>
  <g filter="url(#bl6)" fill="none" stroke="#dcb22e" stroke-width="22" opacity="0.75">
    <path d="M392,62 Q410,32 440,34 Q475,36 497,66"/>
    <path d="M392,128 Q410,158 440,158 Q475,156 494,128"/>
  </g>
  <g filter="url(#speckIn)">
    <g filter="url(#bl4)" fill="none" stroke="#a86a22" stroke-width="22">
      <path d="M392,62 Q410,32 440,34 Q475,36 497,66"/>
      <path d="M392,128 Q410,158 440,158 Q475,156 494,128"/>
    </g>
  </g>
  <ellipse cx="430" cy="96" rx="46" ry="44" fill="#ece41a" filter="url(#bl4)"/>
  <ellipse cx="429" cy="95.5" rx="42" ry="39" fill="url(#gNeRing)"/>
  <ellipse cx="429" cy="95.5" rx="40.5" ry="37.5" fill="#2c9448" filter="url(#speckF)" opacity="0.55"/>
  <ellipse cx="432.5" cy="97" rx="24" ry="23" fill="#c0dab8" filter="url(#bl1)"/>
  <ellipse cx="432.5" cy="97" rx="21.5" ry="20.5" fill="#e0eadc" filter="url(#bl2)"/>
  <ellipse cx="432.5" cy="97" rx="22" ry="21" fill="#b0d4a8" filter="url(#speckF)" opacity="0.7"/>
  <text transform="translate(365.2,39.8) scale(1.08,1)" font-size="22" font-weight="bold" font-style="italic" fill="#111">n</text>
  <text x="378.8" y="45" font-size="15" font-weight="bold" font-style="italic" fill="#111">e</text>
</g>

<!-- ni panel -->
<g clip-path="url(#cI)">
  <rect x="510" y="14" width="170" height="170" fill="#d6a034"/>
  <g filter="url(#bl6)">
    <ellipse cx="601" cy="96" rx="50" ry="58" fill="none" stroke="#c07a2c" stroke-width="18" opacity="0.9"/>
    <rect x="516" y="4" width="160" height="28" fill="#c27630"/>
    <ellipse cx="545" cy="174" rx="44" ry="14" fill="#c07228"/>
    <rect x="664" y="38" width="14" height="118" fill="#dcb848"/>
    <ellipse cx="598" cy="96" rx="38" ry="44" fill="#dcb636"/>
  </g>
  <circle cx="511" cy="97" r="55" fill="url(#gNiDisk)" filter="url(#bl2)"/>
  <g fill="none" stroke="#c08a26" stroke-width="1.2" filter="url(#bl1)" opacity="0.75">
    <circle cx="511" cy="97" r="46"/>
    <circle cx="511" cy="97" r="53"/>
  </g>
  <path d="M546,96 L584,81 L584,111 Z" fill="#ecd420" filter="url(#bl2)"/>
  <ellipse cx="598.5" cy="94" rx="29" ry="35" fill="#e8d020" filter="url(#bl4)"/>
  <path d="M576,80 L588,64 L610,64 L622,80 L623,108 L610,125 L588,125 L576,108 Z" fill="#f2e21c" filter="url(#bl2)"/>
  <ellipse cx="598.5" cy="94" rx="14" ry="17" fill="#d8dc3c" filter="url(#bl4)"/>
  <path d="M521,84 L534,96 L521,108 L526,96 Z" fill="#bc7428" filter="url(#bl1)"/>
  <ellipse cx="519" cy="25" rx="6" ry="9" fill="#c45a2c" filter="url(#bl2)"/>
  <text transform="translate(525.2,39.8) scale(1.08,1)" font-size="22" font-weight="bold" font-style="italic" fill="#111">n</text>
  <text x="539" y="45" font-size="15" font-weight="bold" font-style="italic" fill="#111">i</text>
</g>

<g fill="none" stroke-width="0.9">
  <rect x="35.5" y="19.3" width="156.7" height="155.9" stroke="#1c2470" stroke-opacity="0.55"/>
  <rect x="196.3" y="19.3" width="156.1" height="155.4" stroke="#1c2470" stroke-opacity="0.45"/>
  <rect x="356.3" y="19.3" width="156" height="154.8" stroke="#5a6a30" stroke-opacity="0.5"/>
  <rect x="516.5" y="19.3" width="155.7" height="154.7" stroke="#6a4a20" stroke-opacity="0.5"/>
</g>
<!-- coordinate indicator -->
<g stroke="#231f20" stroke-width="1.5" fill="none">
  <circle cx="25.8" cy="184.5" r="7.8"/>
  <path d="M20.3,179 L31.3,190 M31.3,179 L20.3,190"/>
  <path d="M26,176.7 L26,150"/>
  <path d="M33.6,184.6 L61,184.6"/>
</g>
<path d="M26,144.6 L30.7,153.5 L26,151.5 L21.3,153.5 Z" fill="#231f20"/>
<path d="M66,184.6 L57.3,189.5 L59.3,184.6 L57.3,179.7 Z" fill="#231f20"/>
<text x="21.5" y="137.8" font-size="19" font-style="italic" fill="#231f20">y</text>
<text x="71.5" y="190.3" font-size="19" font-style="italic" fill="#231f20">z</text>
<text x="36.8" y="200.8" font-size="19" font-style="italic" fill="#231f20">x</text>

<!-- ============ (b) ============ -->
<text x="0" y="223.8" font-size="22" font-weight="bold" fill="#231f20">(b)</text>
<g fill="none" stroke="#787878" stroke-width="1">
  <rect x="39.6" y="226.5" width="171.8" height="148.8"/>
  <path d="M39.6,375.3v2.5 M82.5,375.3v2.5 M125.5,375.3v2.5 M168.4,375.3v2.5 M211.4,375.3v2.5 M37.1,375.3h2.5 M37.1,275h2.5 M211.4,374.6h2.5 M211.4,239h2.5"/>
</g>
<path d="M67.4,375.0C68.7,375.0 72.6,374.9 75.0,374.8C77.4,374.7 80.3,374.6 82.0,374.5C83.7,374.4 84.0,374.2 85.0,373.9C86.0,373.6 87.0,373.0 88.0,372.5C89.0,372.0 89.6,372.1 90.9,370.9C92.2,369.6 94.3,367.3 95.8,365.0C97.3,362.7 98.6,360.1 99.8,357.1C101.0,354.2 101.9,350.9 102.7,347.3C103.5,343.7 104.2,339.4 104.7,335.5C105.2,331.6 105.4,327.6 105.7,323.6C106.0,319.7 106.4,315.7 106.7,311.8C107.0,307.9 107.2,305.3 107.7,300.0C108.2,294.7 109.2,286.3 110.0,280.0C110.8,273.7 111.8,267.2 112.6,262.0C113.4,256.8 114.0,252.0 114.8,248.5C115.6,245.0 116.5,242.5 117.4,241.1C118.3,239.7 119.2,240.5 120.0,240.2C120.8,239.9 121.2,239.6 122.0,239.5C122.8,239.4 124.0,239.8 125.0,239.8C126.0,239.8 127.0,239.1 128.0,239.3C129.0,239.5 130.2,240.6 130.9,241.0C131.7,241.4 131.8,240.8 132.5,241.5C133.2,242.2 134.2,243.7 134.9,244.9C135.6,246.2 136.0,247.5 136.5,249.0C137.0,250.5 137.2,250.4 137.8,253.8C138.4,257.2 139.2,263.7 139.8,269.6C140.5,275.5 141.0,283.4 141.7,289.3C142.4,295.2 143.2,299.6 143.8,305.0C144.4,310.4 144.9,316.5 145.5,322.0C146.1,327.5 146.7,333.0 147.3,338.0C147.9,343.0 148.4,347.9 149.2,352.0C150.0,356.1 150.9,359.8 152.1,362.5C153.3,365.2 154.7,366.9 156.5,368.5C158.3,370.1 161.0,371.4 163.2,372.3C165.4,373.2 167.2,373.7 169.8,374.1C172.4,374.5 177.2,374.4 178.7,374.5" fill="none" stroke="#e0202a" stroke-width="1"/>
<path d="M39.6,274.9C40.6,274.8 43.2,274.1 45.4,274.0C47.6,273.9 51.0,274.1 52.8,274.0C54.6,273.9 54.8,273.3 56.0,273.2C57.2,273.1 59.1,273.1 60.2,273.6C61.3,274.1 61.7,275.2 62.5,276.0C63.3,276.8 64.1,278.5 64.8,278.6C65.5,278.7 65.9,277.1 66.5,276.5C67.1,275.9 67.6,275.7 68.5,275.3C69.4,274.9 70.9,274.3 72.0,274.0C73.1,273.7 74.0,273.9 75.0,273.4C76.0,272.9 76.8,272.1 78.0,271.0C79.2,269.9 80.7,268.1 82.0,267.0C83.3,265.9 84.8,264.8 86.0,264.7C87.2,264.6 87.8,265.3 89.0,266.5C90.2,267.7 92.1,270.8 93.4,272.1C94.8,273.4 96.0,273.8 97.1,274.5C98.2,275.2 98.8,275.5 100.0,276.5C101.2,277.5 103.2,279.0 104.5,280.4C105.8,281.8 106.8,283.6 108.0,285.0C109.2,286.4 110.6,288.0 111.9,288.8C113.2,289.6 114.6,289.1 115.6,289.7C116.6,290.3 117.0,291.7 118.0,292.5C119.0,293.3 120.4,294.0 121.6,294.4C122.8,294.8 123.9,294.6 125.0,294.6C126.1,294.6 127.2,294.5 128.2,294.4C129.2,294.3 129.8,294.9 130.9,294.2C132.0,293.5 134.0,291.1 134.9,290.2C135.8,289.3 135.8,289.3 136.5,289.0C137.2,288.7 138.1,288.3 138.8,288.3C139.5,288.3 139.8,289.3 140.5,289.0C141.2,288.7 141.7,287.6 142.7,286.3C143.7,285.0 145.4,283.2 146.7,281.4C148.0,279.6 149.6,276.8 150.6,275.5C151.6,274.2 151.8,273.8 152.5,273.5C153.2,273.2 153.8,273.8 154.6,273.5C155.4,273.2 156.3,272.3 157.5,271.5C158.7,270.7 160.3,269.7 161.5,268.6C162.7,267.5 163.6,265.1 164.7,264.7C165.8,264.3 166.9,265.6 168.0,266.5C169.1,267.4 170.2,269.2 171.2,270.3C172.2,271.4 173.1,272.3 174.0,273.0C174.9,273.7 175.7,274.2 176.7,274.5C177.7,274.8 178.8,274.8 180.0,275.0C181.2,275.2 183.1,275.5 184.1,275.8C185.1,276.1 185.4,276.5 186.0,277.0C186.6,277.5 187.0,279.1 187.8,278.6C188.6,278.1 189.7,274.7 190.6,274.0C191.5,273.3 192.1,274.3 193.0,274.3C193.9,274.3 195.2,273.9 196.2,274.0C197.2,274.1 197.9,274.9 199.0,275.0C200.1,275.1 201.6,275.1 202.6,274.9C203.6,274.7 204.1,274.2 205.0,274.0C205.9,273.8 207.1,273.4 208.2,273.4C209.3,273.4 210.9,273.9 211.4,274.0" fill="none" stroke="#3a4fa8" stroke-width="1"/>
<path d="M39.6,274.9C39.9,274.2 40.7,272.3 41.5,271.0C42.3,269.7 43.7,267.3 44.5,267.1C45.3,266.9 45.9,268.7 46.5,270.0C47.1,271.3 47.6,272.7 48.2,274.9C48.8,277.1 49.4,280.6 50.0,283.0C50.6,285.4 51.2,288.7 51.9,289.5C52.6,290.3 53.1,289.2 54.0,288.0C54.9,286.8 56.5,283.0 57.4,282.3C58.3,281.6 58.9,283.2 59.5,284.0C60.1,284.8 60.4,286.1 61.1,286.9C61.8,287.7 62.7,288.6 63.5,289.0C64.3,289.4 65.0,289.8 65.7,289.3C66.4,288.8 66.9,287.3 67.5,286.0C68.1,284.7 68.7,282.3 69.4,281.4C70.1,280.5 70.9,280.7 71.5,280.5C72.1,280.3 72.4,280.9 73.1,280.1C73.8,279.4 74.7,277.8 75.5,276.0C76.3,274.2 77.0,272.4 77.7,269.4C78.5,266.4 79.2,261.4 80.0,258.0C80.8,254.6 81.6,250.7 82.4,249.0C83.2,247.3 84.3,248.1 85.1,248.1C85.9,248.1 86.4,249.5 87.0,249.0C87.6,248.5 88.0,246.1 88.5,245.0C89.0,243.9 89.2,242.9 89.7,242.6C90.2,242.3 90.9,242.7 91.5,243.0C92.1,243.3 92.7,243.8 93.4,244.4C94.1,245.0 94.9,245.7 95.5,246.5C96.1,247.3 96.4,247.0 97.1,249.0C97.8,251.0 99.0,254.3 99.9,258.3C100.8,262.3 101.9,268.7 102.7,273.0C103.5,277.3 103.9,280.2 104.5,284.0C105.1,287.8 105.7,292.3 106.2,296.0C106.7,299.7 107.1,301.5 107.6,306.0C108.1,310.5 108.8,317.5 109.4,323.2C110.0,328.9 110.7,335.1 111.2,340.0C111.7,344.9 112.1,349.2 112.6,352.5C113.1,355.8 113.5,358.3 114.3,360.0C115.1,361.7 116.3,362.3 117.2,362.7C118.1,363.1 119.0,361.9 119.8,362.3C120.6,362.8 121.2,364.7 122.0,365.4C122.8,366.1 123.7,366.6 124.5,366.5C125.3,366.4 126.1,365.4 126.7,364.9C127.3,364.3 127.8,363.0 128.3,363.2C128.9,363.4 129.3,365.4 130.0,365.8C130.7,366.2 131.4,366.0 132.2,365.4C132.9,364.8 133.8,363.1 134.5,362.0C135.2,360.9 136.1,360.3 136.7,358.7C137.3,357.1 137.8,354.6 138.2,352.1C138.6,349.7 139.0,346.9 139.3,344.0C139.7,341.1 139.9,338.1 140.3,334.5C140.7,330.9 141.1,326.4 141.6,322.4C142.1,318.4 142.7,314.0 143.3,310.3C143.9,306.6 144.4,303.5 145.0,300.0C145.6,296.5 146.1,293.4 146.7,289.3C147.3,285.2 147.9,280.4 148.6,275.5C149.2,270.6 149.9,264.1 150.6,259.7C151.3,255.3 151.9,251.0 152.6,248.9C153.3,246.8 153.8,247.1 154.6,246.9C155.4,246.7 156.7,246.9 157.5,247.9C158.3,248.9 158.8,251.2 159.5,252.8C160.2,254.4 160.9,257.9 161.5,257.7C162.1,257.5 162.3,253.3 162.8,251.8C163.3,250.3 163.8,249.7 164.4,248.9C165.0,248.1 166.0,246.7 166.6,247.2C167.2,247.7 167.5,250.2 168.0,252.0C168.5,253.8 168.9,256.3 169.4,258.3C169.9,260.3 170.4,262.0 171.2,263.8C172.0,265.6 173.2,267.2 174.0,269.4C174.8,271.5 175.2,274.5 175.8,276.7C176.4,278.9 176.9,281.5 177.7,282.3C178.5,283.1 179.3,281.9 180.4,281.4C181.5,280.9 183.1,279.6 184.1,279.5C185.1,279.4 185.7,280.0 186.5,280.5C187.3,281.0 188.1,281.5 188.8,282.3C189.6,283.1 190.2,284.4 191.0,285.5C191.8,286.6 192.5,289.2 193.4,288.8C194.3,288.4 195.3,284.5 196.2,283.2C197.0,281.9 197.7,281.6 198.5,281.0C199.3,280.4 199.8,280.4 200.8,279.5C201.8,278.6 203.6,277.2 204.5,275.8C205.4,274.4 205.6,272.4 206.0,271.0C206.4,269.6 206.8,267.8 207.2,267.5C207.6,267.2 208.0,268.2 208.5,269.0C209.0,269.8 209.5,271.3 210.0,272.1C210.5,272.9 211.2,273.7 211.4,274.0" fill="none" stroke="#222" stroke-width="1"/>
<path d="M147.3,343.8 L167,343.8" stroke="#e0202a" stroke-width="1"/>
<path d="M172,343.8 L166.5,341.2 L166.5,346.4 Z" fill="#e0202a"/>
<g font-size="14" fill="#231f20" text-anchor="middle">
  <text x="39.6" y="390.5">-60</text>
  <text x="82.5" y="390.5">-30</text>
  <text x="125.5" y="390.5">0</text>
  <text x="168.4" y="390.5">30</text>
  <text x="211.4" y="390.5">60</text>
  <text x="125.5" y="402.5">y (cm)</text>
</g>
<g font-size="14" fill="#231f20">
  <text x="35.5" y="379.5" text-anchor="end">0</text>
  <text x="34.5" y="279.9" text-anchor="end">1</text>
  <text x="215.3" y="379.2">0</text>
  <text x="215.3" y="243.5">1</text>
</g>
<text transform="translate(219.4,247.3) rotate(90) scale(0.945,1)" font-size="13.7" fill="#231f20">Field-energy density</text>
<text transform="translate(26.2,323) rotate(-90)" font-size="13.8" fill="#231f20">n<tspan font-size="9" dy="3.8">e,i</tspan><tspan dy="-3.8">/n</tspan><tspan font-size="9" dy="3.8">0</tspan></text>
<text x="119.5" y="282.3" font-size="16.5" fill="#3a4fa8">n</text>
<text x="128" y="289.3" font-size="11" fill="#3a4fa8">i</text>
<text x="119.8" y="352.7" font-size="16.5" fill="#231f20">n</text>
<text x="128.8" y="359.4" font-size="11" fill="#231f20">e</text>

<!-- ============ (c) ============ -->
<text x="231.4" y="223.8" font-size="22" font-weight="bold" fill="#231f20">(c)</text>
<g fill="none" stroke="#787878" stroke-width="1">
  <rect x="295.6" y="226.3" width="171.7" height="149"/>
  <path d="M295.6,375.3v2.5 M338.5,375.3v2.5 M381.5,375.3v2.5 M424.4,375.3v2.5 M467.3,375.3v2.5 M293.1,226.3h2.5 M293.1,263.5h2.5 M293.1,300.8h2.5 M293.1,338.1h2.5 M293.1,375.3h2.5"/>
</g>
<g fill="none" stroke="#4c4c4c" stroke-width="0.95"><circle cx="296.6" cy="272.1" r="2.4"/><circle cx="297.2" cy="278.6" r="2.4"/><circle cx="297.8" cy="285.0" r="2.4"/><circle cx="299.0" cy="290.7" r="2.4"/><circle cx="300.0" cy="313.1" r="2.4"/><circle cx="301.2" cy="320.0" r="2.4"/><circle cx="302.4" cy="325.2" r="2.4"/><circle cx="303.6" cy="331.5" r="2.4"/><circle cx="304.8" cy="335.5" r="2.4"/><circle cx="306.0" cy="341.9" r="2.4"/><circle cx="307.2" cy="346.2" r="2.4"/><circle cx="308.4" cy="349.6" r="2.4"/><circle cx="309.6" cy="354.7" r="2.4"/><circle cx="310.8" cy="358.1" r="2.4"/><circle cx="312.0" cy="361.4" r="2.4"/><circle cx="313.2" cy="364.4" r="2.4"/><circle cx="314.4" cy="366.1" r="2.4"/><circle cx="315.6" cy="367.0" r="2.4"/><circle cx="316.8" cy="367.6" r="2.4"/><circle cx="318.0" cy="367.0" r="2.4"/><circle cx="319.2" cy="366.0" r="2.4"/><circle cx="320.4" cy="364.5" r="2.4"/><circle cx="321.6" cy="362.9" r="2.4"/><circle cx="322.8" cy="361.2" r="2.4"/><circle cx="324.0" cy="358.9" r="2.4"/><circle cx="325.2" cy="355.8" r="2.4"/><circle cx="326.4" cy="348.6" r="2.4"/><circle cx="327.6" cy="341.4" r="2.4"/><circle cx="328.8" cy="333.7" r="2.4"/><circle cx="330.0" cy="324.7" r="2.4"/><circle cx="331.2" cy="317.0" r="2.4"/><circle cx="332.4" cy="311.3" r="2.4"/><circle cx="333.6" cy="308.4" r="2.4"/><circle cx="333.8" cy="286.0" r="2.4"/><circle cx="335.0" cy="279.8" r="2.4"/><circle cx="336.2" cy="271.8" r="2.4"/><circle cx="337.4" cy="262.0" r="2.4"/><circle cx="338.7" cy="256.2" r="2.4"/><circle cx="339.9" cy="249.0" r="2.4"/><circle cx="341.1" cy="244.4" r="2.4"/><circle cx="342.3" cy="241.0" r="2.4"/><circle cx="343.5" cy="237.6" r="2.4"/><circle cx="344.7" cy="236.5" r="2.4"/><circle cx="345.9" cy="237.1" r="2.4"/><circle cx="347.2" cy="238.5" r="2.4"/><circle cx="348.4" cy="240.3" r="2.4"/><circle cx="349.6" cy="242.2" r="2.4"/><circle cx="350.8" cy="244.1" r="2.4"/><circle cx="352.0" cy="246.1" r="2.4"/><circle cx="353.2" cy="248.0" r="2.4"/><circle cx="354.5" cy="250.0" r="2.4"/><circle cx="355.7" cy="252.1" r="2.4"/><circle cx="356.9" cy="254.4" r="2.4"/><circle cx="358.1" cy="257.1" r="2.4"/><circle cx="359.3" cy="260.0" r="2.4"/><circle cx="360.5" cy="263.3" r="2.4"/><circle cx="361.7" cy="267.4" r="2.4"/><circle cx="363.0" cy="271.9" r="2.4"/><circle cx="364.2" cy="276.5" r="2.4"/><circle cx="365.4" cy="282.0" r="2.4"/><circle cx="366.6" cy="290.6" r="2.4"/><circle cx="367.6" cy="310.6" r="2.4"/><circle cx="368.8" cy="314.9" r="2.4"/><circle cx="370.0" cy="321.1" r="2.4"/><circle cx="371.3" cy="331.3" r="2.4"/><circle cx="372.5" cy="339.1" r="2.4"/><circle cx="373.7" cy="345.7" r="2.4"/><circle cx="374.9" cy="350.5" r="2.4"/><circle cx="376.2" cy="354.8" r="2.4"/><circle cx="377.4" cy="358.4" r="2.4"/><circle cx="378.6" cy="361.1" r="2.4"/><circle cx="379.8" cy="361.2" r="2.4"/><circle cx="381.1" cy="359.9" r="2.4"/><circle cx="382.3" cy="358.2" r="2.4"/><circle cx="383.5" cy="356.4" r="2.4"/><circle cx="384.7" cy="354.7" r="2.4"/><circle cx="385.9" cy="352.9" r="2.4"/><circle cx="387.2" cy="351.0" r="2.4"/><circle cx="388.4" cy="349.0" r="2.4"/><circle cx="389.6" cy="347.0" r="2.4"/><circle cx="390.8" cy="344.9" r="2.4"/><circle cx="392.1" cy="342.8" r="2.4"/><circle cx="393.3" cy="340.5" r="2.4"/><circle cx="394.5" cy="338.1" r="2.4"/><circle cx="395.7" cy="335.4" r="2.4"/><circle cx="397.0" cy="332.1" r="2.4"/><circle cx="398.2" cy="327.9" r="2.4"/><circle cx="399.4" cy="322.0" r="2.4"/><circle cx="400.3" cy="288.8" r="2.4"/><circle cx="401.5" cy="285.9" r="2.4"/><circle cx="402.7" cy="279.8" r="2.4"/><circle cx="403.9" cy="272.0" r="2.4"/><circle cx="405.2" cy="261.3" r="2.4"/><circle cx="406.4" cy="254.8" r="2.4"/><circle cx="407.6" cy="246.8" r="2.4"/><circle cx="408.8" cy="242.9" r="2.4"/><circle cx="410.0" cy="240.0" r="2.4"/><circle cx="411.2" cy="237.2" r="2.4"/><circle cx="412.4" cy="236.3" r="2.4"/><circle cx="413.7" cy="237.2" r="2.4"/><circle cx="414.9" cy="238.1" r="2.4"/><circle cx="416.1" cy="239.3" r="2.4"/><circle cx="417.3" cy="240.8" r="2.4"/><circle cx="418.5" cy="242.9" r="2.4"/><circle cx="419.7" cy="245.5" r="2.4"/><circle cx="421.0" cy="248.4" r="2.4"/><circle cx="422.2" cy="251.4" r="2.4"/><circle cx="423.4" cy="254.6" r="2.4"/><circle cx="424.6" cy="257.7" r="2.4"/><circle cx="425.8" cy="261.1" r="2.4"/><circle cx="427.0" cy="264.6" r="2.4"/><circle cx="428.2" cy="268.2" r="2.4"/><circle cx="429.5" cy="272.1" r="2.4"/><circle cx="430.7" cy="276.3" r="2.4"/><circle cx="431.9" cy="280.5" r="2.4"/><circle cx="433.1" cy="287.6" r="2.4"/><circle cx="434.0" cy="312.3" r="2.4"/><circle cx="435.2" cy="317.0" r="2.4"/><circle cx="436.4" cy="320.6" r="2.4"/><circle cx="437.5" cy="325.9" r="2.4"/><circle cx="438.7" cy="331.3" r="2.4"/><circle cx="439.9" cy="336.1" r="2.4"/><circle cx="441.1" cy="342.1" r="2.4"/><circle cx="442.3" cy="345.9" r="2.4"/><circle cx="443.5" cy="349.6" r="2.4"/><circle cx="444.6" cy="352.9" r="2.4"/><circle cx="445.8" cy="355.5" r="2.4"/><circle cx="447.0" cy="357.8" r="2.4"/><circle cx="448.2" cy="359.9" r="2.4"/><circle cx="449.4" cy="361.2" r="2.4"/><circle cx="450.6" cy="360.7" r="2.4"/><circle cx="451.7" cy="359.7" r="2.4"/><circle cx="452.9" cy="358.2" r="2.4"/><circle cx="454.1" cy="356.0" r="2.4"/><circle cx="455.3" cy="352.9" r="2.4"/><circle cx="456.5" cy="349.7" r="2.4"/><circle cx="457.6" cy="346.7" r="2.4"/><circle cx="458.8" cy="343.7" r="2.4"/><circle cx="460.0" cy="340.6" r="2.4"/><circle cx="461.2" cy="336.9" r="2.4"/><circle cx="462.4" cy="332.4" r="2.4"/><circle cx="463.6" cy="327.1" r="2.4"/><circle cx="464.7" cy="320.8" r="2.4"/><circle cx="465.9" cy="307.7" r="2.4"/><circle cx="467.1" cy="290.5" r="2.4"/></g>
<g font-size="14" fill="#231f20" text-anchor="middle">
  <text x="295.6" y="390.5">16</text>
  <text x="338.5" y="390.5">17</text>
  <text x="381.5" y="390.5">18</text>
  <text x="424.4" y="390.5">19</text>
  <text x="467.3" y="390.5">20</text>
  <text x="381.5" y="403">t (ns)</text>
</g>
<g font-size="14" fill="#231f20" text-anchor="end">
  <text x="291.5" y="230.8">0.2</text>
  <text x="291.5" y="268">0.1</text>
  <text x="291.5" y="305.3">0.0</text>
  <text x="291.5" y="342.6">-0.1</text>
  <text x="291.5" y="379.8">-0.2</text>
</g>
<text transform="translate(261,332.5) rotate(-90)" font-size="14" fill="#231f20">E<tspan font-size="9.5" dx="0.6" dy="5.2">x</tspan><tspan dy="-5.2"> (GV/m)</tspan></text>

<!-- ============ (d) ============ -->
<g fill="none" stroke="#787878" stroke-width="1">
  <rect x="500.5" y="225.8" width="171.7" height="149.5"/>
  <path d="M500.5,375.3v2.5 M543.4,375.3v2.5 M586.4,375.3v2.5 M629.3,375.3v2.5 M672.2,375.3v2.5 M498,225.8h2.5 M498,375.3h2.5"/>
</g>
<path d="M500.5,291.5 L501.0,289.6 L501.5,287.8 L502.0,286.3 L502.5,285.0 L503.0,284.0 L503.5,283.3 L504.0,282.8 L504.5,282.6 L505.0,282.7 L505.5,283.0 L506.0,283.6 L506.5,284.5 L507.0,285.6 L507.5,286.9 L508.0,288.5 L508.5,290.3 L509.0,292.3 L509.5,294.4 L510.0,296.8 L510.5,299.2 L511.0,301.8 L511.5,304.6 L512.0,307.3 L512.5,310.2 L513.0,313.1 L513.5,316.0 L514.0,318.9 L514.5,321.8 L515.0,324.6 L515.5,327.3 L516.0,330.0 L516.5,332.5 L517.0,334.8 L517.5,337.0 L518.0,339.0 L518.5,340.9 L519.0,342.5 L519.5,343.9 L520.0,345.0 L520.5,345.9 L521.0,346.6 L521.5,347.0 L522.0,347.1 L522.5,346.9 L523.0,346.5 L523.5,345.8 L524.0,344.7 L524.5,343.4 L525.0,341.8 L525.5,340.0 L526.0,337.9 L526.5,335.7 L527.0,333.2 L527.5,330.6 L528.0,327.8 L528.5,324.9 L529.0,321.9 L529.5,318.9 L530.0,315.8 L530.5,312.8 L531.0,309.8 L531.5,306.8 L532.0,304.0 L532.5,301.2 L533.0,298.6 L533.5,296.2 L534.0,293.9 L534.5,291.9 L535.0,290.1 L535.5,288.6 L536.0,287.4 L536.5,286.4 L537.0,285.7 L537.5,285.3 L538.0,285.2 L538.5,285.4 L539.0,285.9 L539.5,286.7 L540.0,287.8 L540.5,289.2 L541.0,290.8 L541.5,292.6 L542.0,294.7 L542.5,297.1 L543.0,299.6 L543.5,302.2 L544.0,305.0 L544.5,308.0 L545.0,311.0 L545.5,314.1 L546.0,317.2 L546.5,320.3 L547.0,323.4 L547.5,326.4 L548.0,329.4 L548.5,332.3 L549.0,335.0 L549.5,337.6 L550.0,340.0 L550.5,342.1 L551.0,344.1 L551.5,345.8 L552.0,347.3 L552.5,348.5 L553.0,349.4 L553.5,350.0 L554.0,350.3 L554.5,350.4 L555.0,350.1 L555.5,349.7 L556.0,348.9 L556.5,347.9 L557.0,346.7 L557.5,345.3 L558.0,343.6 L558.5,341.8 L559.0,339.8 L559.5,337.6 L560.0,335.2 L560.5,332.8 L561.0,330.2 L561.5,327.6 L562.0,324.9 L562.5,322.2 L563.0,319.5 L563.5,316.8 L564.0,314.1 L564.5,311.5 L565.0,309.0 L565.5,306.7 L566.0,304.4 L566.5,302.3 L567.0,300.4 L567.5,298.6 L568.0,297.1 L568.5,295.8 L569.0,294.7 L569.5,293.9 L570.0,293.3 L570.5,293.0 L571.0,292.9 L571.5,293.0 L572.0,293.4 L572.5,293.9 L573.0,294.7 L573.5,295.6 L574.0,296.7 L574.5,298.0 L575.0,299.5 L575.5,301.1 L576.0,302.9 L576.5,304.8 L577.0,306.8 L577.5,308.9 L578.0,311.1 L578.5,313.4 L579.0,315.7 L579.5,318.1 L580.0,320.5 L580.5,322.9 L581.0,325.2 L581.5,327.6 L582.0,329.9 L582.5,332.1 L583.0,334.3 L583.5,336.3 L584.0,338.3 L584.5,340.1 L585.0,341.8 L585.5,343.3 L586.0,344.7 L586.5,345.9 L587.0,346.9 L587.5,347.7 L588.0,348.3 L588.5,348.7 L589.0,349.0 L589.5,349.0 L590.0,348.7 L590.5,348.3 L591.0,347.5 L591.5,346.5 L592.0,345.3 L592.5,343.9 L593.0,342.2 L593.5,340.4 L594.0,338.4 L594.5,336.2 L595.0,334.0 L595.5,331.6 L596.0,329.1 L596.5,326.6 L597.0,324.0 L597.5,321.4 L598.0,318.9 L598.5,316.4 L599.0,314.0 L599.5,311.6 L600.0,309.4 L600.5,307.4 L601.0,305.5 L601.5,303.7 L602.0,302.2 L602.5,300.9 L603.0,299.8 L603.5,299.0 L604.0,298.4 L604.5,298.1 L605.0,298.0 L605.5,298.2 L606.0,298.6 L606.5,299.2 L607.0,300.1 L607.5,301.2 L608.0,302.5 L608.5,304.0 L609.0,305.7 L609.5,307.5 L610.0,309.5 L610.5,311.7 L611.0,313.9 L611.5,316.3 L612.0,318.7 L612.5,321.2 L613.0,323.7 L613.5,326.1 L614.0,328.6 L614.5,331.0 L615.0,333.4 L615.5,335.7 L616.0,337.8 L616.5,339.9 L617.0,341.8 L617.5,343.5 L618.0,345.0 L618.5,346.4 L619.0,347.5 L619.5,348.4 L620.0,349.1 L620.5,349.6 L621.0,349.8 L621.5,349.8 L622.0,349.5 L622.5,349.1 L623.0,348.5 L623.5,347.6 L624.0,346.6 L624.5,345.4 L625.0,344.0 L625.5,342.5 L626.0,340.8 L626.5,339.0 L627.0,337.0 L627.5,335.0 L628.0,332.9 L628.5,330.7 L629.0,328.4 L629.5,326.2 L630.0,323.9 L630.5,321.6 L631.0,319.3 L631.5,317.1 L632.0,314.9 L632.5,312.9 L633.0,310.9 L633.5,309.0 L634.0,307.3 L634.5,305.7 L635.0,304.2 L635.5,303.0 L636.0,301.9 L636.5,300.9 L637.0,300.2 L637.5,299.7 L638.0,299.4 L638.5,299.3 L639.0,299.4 L639.5,299.7 L640.0,300.3 L640.5,301.0 L641.0,302.0 L641.5,303.2 L642.0,304.5 L642.5,306.0 L643.0,307.7 L643.5,309.5 L644.0,311.5 L644.5,313.6 L645.0,315.8 L645.5,318.0 L646.0,320.4 L646.5,322.8 L647.0,325.2 L647.5,327.6 L648.0,330.0 L648.5,332.4 L649.0,334.7 L649.5,336.9 L650.0,339.1 L650.5,341.1 L651.0,343.0 L651.5,344.8 L652.0,346.4 L652.5,347.9 L653.0,349.1 L653.5,350.2 L654.0,351.1 L654.5,351.8 L655.0,352.2 L655.5,352.5 L656.0,352.5 L656.5,352.3 L657.0,351.9 L657.5,351.2 L658.0,350.4 L658.5,349.3 L659.0,348.1 L659.5,346.7 L660.0,345.1 L660.5,343.4 L661.0,341.5 L661.5,339.5 L662.0,337.3 L662.5,335.1 L663.0,332.9 L663.5,330.5 L664.0,328.2 L664.5,325.8 L665.0,323.5 L665.5,321.2 L666.0,318.9 L666.5,316.7 L667.0,314.6 L667.5,312.6 L668.0,310.8 L668.5,309.1 L669.0,307.5 L669.5,306.1 L670.0,304.9 L670.5,303.9 L671.0,303.1 L671.5,302.5 L672.0,302.2" fill="none" stroke="#d8202a" stroke-width="1"/>
<path d="M500.5,333.8 L501.0,337.5 L501.5,340.8 L502.0,343.7 L502.5,346.1 L503.0,348.1 L503.5,349.5 L504.0,350.5 L504.5,351.0 L505.0,350.9 L505.5,350.3 L506.0,349.3 L506.5,347.7 L507.0,345.7 L507.5,343.2 L508.0,340.2 L508.5,336.8 L509.0,333.1 L509.5,329.0 L510.0,324.5 L510.5,319.8 L511.0,314.9 L511.5,309.7 L512.0,304.5 L512.5,299.1 L513.0,293.6 L513.5,288.2 L514.0,282.8 L514.5,277.5 L515.0,272.3 L515.5,267.3 L516.0,262.6 L516.5,258.1 L517.0,253.9 L517.5,250.1 L518.0,246.6 L518.5,243.6 L519.0,241.0 L519.5,238.9 L520.0,237.2 L520.5,236.0 L521.0,235.4 L521.5,235.2 L522.0,235.6 L522.5,236.5 L523.0,238.0 L523.5,240.0 L524.0,242.6 L524.5,245.6 L525.0,249.0 L525.5,252.9 L526.0,257.2 L526.5,261.9 L527.0,266.8 L527.5,272.0 L528.0,277.5 L528.5,283.1 L529.0,288.8 L529.5,294.6 L530.0,300.4 L530.5,306.1 L531.0,311.8 L531.5,317.3 L532.0,322.6 L532.5,327.7 L533.0,332.5 L533.5,336.9 L534.0,341.0 L534.5,344.6 L535.0,347.8 L535.5,350.5 L536.0,352.7 L536.5,354.4 L537.0,355.6 L537.5,356.2 L538.0,356.3 L538.5,355.8 L539.0,354.8 L539.5,353.3 L540.0,351.3 L540.5,348.9 L541.0,346.0 L541.5,342.6 L542.0,338.9 L542.5,334.8 L543.0,330.4 L543.5,325.6 L544.0,320.7 L544.5,315.5 L545.0,310.1 L545.5,304.7 L546.0,299.1 L546.5,293.6 L547.0,288.0 L547.5,282.6 L548.0,277.3 L548.5,272.1 L549.0,267.2 L549.5,262.5 L550.0,258.2 L550.5,254.1 L551.0,250.5 L551.5,247.2 L552.0,244.4 L552.5,242.0 L553.0,240.1 L553.5,238.8 L554.0,237.9 L554.5,237.5 L555.0,237.7 L555.5,238.3 L556.0,239.5 L556.5,241.1 L557.0,243.3 L557.5,245.9 L558.0,248.9 L558.5,252.3 L559.0,256.1 L559.5,260.3 L560.0,264.8 L560.5,269.5 L561.0,274.5 L561.5,279.7 L562.0,285.0 L562.5,290.4 L563.0,295.9 L563.5,301.4 L564.0,306.8 L564.5,312.1 L565.0,317.4 L565.5,322.4 L566.0,327.2 L566.5,331.7 L567.0,335.9 L567.5,339.8 L568.0,343.4 L568.5,346.5 L569.0,349.1 L569.5,351.4 L570.0,353.1 L570.5,354.4 L571.0,355.1 L571.5,355.4 L572.0,355.2 L572.5,354.5 L573.0,353.3 L573.5,351.7 L574.0,349.7 L574.5,347.3 L575.0,344.5 L575.5,341.3 L576.0,337.7 L576.5,333.9 L577.0,329.7 L577.5,325.3 L578.0,320.7 L578.5,315.9 L579.0,311.0 L579.5,305.9 L580.0,300.8 L580.5,295.7 L581.0,290.7 L581.5,285.6 L582.0,280.7 L582.5,276.0 L583.0,271.4 L583.5,267.0 L584.0,262.9 L584.5,259.1 L585.0,255.7 L585.5,252.5 L586.0,249.8 L586.5,247.4 L587.0,245.5 L587.5,244.0 L588.0,242.9 L588.5,242.3 L589.0,242.2 L589.5,242.6 L590.0,243.4 L590.5,244.8 L591.0,246.7 L591.5,249.1 L592.0,251.9 L592.5,255.1 L593.0,258.7 L593.5,262.8 L594.0,267.1 L594.5,271.7 L595.0,276.6 L595.5,281.7 L596.0,286.9 L596.5,292.2 L597.0,297.6 L597.5,303.0 L598.0,308.4 L598.5,313.7 L599.0,318.8 L599.5,323.8 L600.0,328.5 L600.5,333.0 L601.0,337.1 L601.5,340.9 L602.0,344.3 L602.5,347.3 L603.0,349.8 L603.5,351.9 L604.0,353.5 L604.5,354.5 L605.0,355.1 L605.5,355.2 L606.0,354.7 L606.5,353.8 L607.0,352.4 L607.5,350.5 L608.0,348.2 L608.5,345.5 L609.0,342.4 L609.5,338.9 L610.0,335.0 L610.5,330.9 L611.0,326.5 L611.5,321.8 L612.0,317.0 L612.5,312.0 L613.0,306.9 L613.5,301.8 L614.0,296.7 L614.5,291.6 L615.0,286.6 L615.5,281.7 L616.0,277.1 L616.5,272.6 L617.0,268.4 L617.5,264.5 L618.0,260.9 L618.5,257.7 L619.0,254.9 L619.5,252.5 L620.0,250.5 L620.5,249.0 L621.0,248.0 L621.5,247.5 L622.0,247.4 L622.5,247.9 L623.0,248.8 L623.5,250.2 L624.0,252.0 L624.5,254.3 L625.0,257.1 L625.5,260.2 L626.0,263.7 L626.5,267.5 L627.0,271.7 L627.5,276.1 L628.0,280.7 L628.5,285.6 L629.0,290.6 L629.5,295.6 L630.0,300.8 L630.5,306.0 L631.0,311.1 L631.5,316.2 L632.0,321.1 L632.5,325.9 L633.0,330.4 L633.5,334.7 L634.0,338.8 L634.5,342.5 L635.0,345.8 L635.5,348.8 L636.0,351.3 L636.5,353.5 L637.0,355.1 L637.5,356.3 L638.0,357.1 L638.5,357.3 L639.0,357.1 L639.5,356.4 L640.0,355.3 L640.5,353.7 L641.0,351.7 L641.5,349.3 L642.0,346.4 L642.5,343.3 L643.0,339.8 L643.5,335.9 L644.0,331.8 L644.5,327.5 L645.0,322.9 L645.5,318.2 L646.0,313.3 L646.5,308.4 L647.0,303.4 L647.5,298.3 L648.0,293.4 L648.5,288.5 L649.0,283.7 L649.5,279.0 L650.0,274.6 L650.5,270.4 L651.0,266.4 L651.5,262.8 L652.0,259.5 L652.5,256.5 L653.0,253.9 L653.5,251.8 L654.0,250.0 L654.5,248.7 L655.0,247.8 L655.5,247.4 L656.0,247.5 L656.5,248.0 L657.0,249.0 L657.5,250.5 L658.0,252.4 L658.5,254.8 L659.0,257.6 L659.5,260.8 L660.0,264.3 L660.5,268.2 L661.0,272.4 L661.5,276.8 L662.0,281.5 L662.5,286.3 L663.0,291.3 L663.5,296.4 L664.0,301.6 L664.5,306.7 L665.0,311.8 L665.5,316.9 L666.0,321.8 L666.5,326.6 L667.0,331.1 L667.5,335.4 L668.0,339.4 L668.5,343.1 L669.0,346.4 L669.5,349.3 L670.0,351.9 L670.5,354.0 L671.0,355.6 L671.5,356.8 L672.0,357.6" fill="none" stroke="#222" stroke-width="1"/>
<g font-size="14" fill="#231f20" text-anchor="middle">
  <text x="500.5" y="390.5">16</text>
  <text x="543.4" y="390.5">17</text>
  <text x="586.4" y="390.5">18</text>
  <text x="629.3" y="390.5">19</text>
  <text x="672.2" y="390.5">20</text>
  <text x="586.4" y="403">t (ns)</text>
</g>
<g font-size="14" fill="#231f20" text-anchor="end">
  <text x="496" y="230.3">1</text>
  <text x="496" y="379.8">0</text>
</g>
<text transform="translate(488.4,346.5) rotate(-90)" font-size="13.7" fill="#231f20">W<tspan font-size="10" dy="3">e,m</tspan><tspan dy="-3"> (arb. unit)</tspan></text>
<text x="581" y="239" font-size="13.5" fill="#231f20">W</text>
<text x="594.3" y="244.6" font-size="9.5" fill="#231f20">e</text>
<text x="582.3" y="365.8" font-size="13.5" fill="#d8202a">W</text>
<text x="595.3" y="371.2" font-size="9.5" fill="#d8202a">m</text>
</svg>
</body></html>
